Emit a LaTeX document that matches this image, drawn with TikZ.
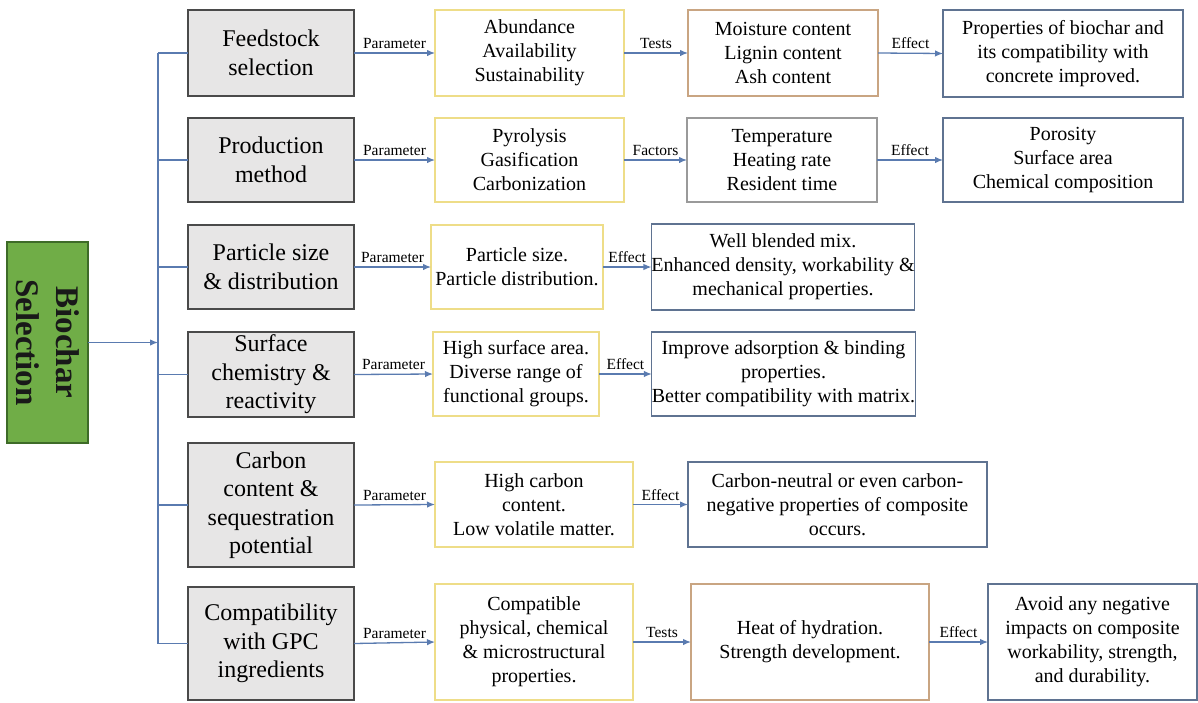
\documentclass[tikz,border=0pt]{standalone}
\usepackage{fontspec}
\setmainfont{Liberation Serif}
\newfontfamily\tnr{Liberation Serif}
\usetikzlibrary{arrows.meta,calc}
\definecolor{conn}{HTML}{5A7BB0}
\definecolor{grayfill}{HTML}{E7E6E6}
\definecolor{grayline}{HTML}{4A4A4A}
\definecolor{yel}{HTML}{EEDD88}
\definecolor{bluebd}{HTML}{5F7391}
\definecolor{brownbd}{HTML}{C9A582}
\definecolor{graybd}{HTML}{9A9A9A}
\definecolor{greenfill}{HTML}{70AD47}
\definecolor{greenbd}{HTML}{3E6B28}
\tikzset{
  base/.style={draw, line width=1.2pt, inner sep=0pt, outer sep=0pt, align=center, text=black},
  leftbox/.style={base, fill=grayfill, draw=grayline, font=\tnr\fontsize{24}{28.5}\selectfont},
  inbox/.style={base, fill=white, font=\tnr\fontsize{20}{24}\selectfont},
  yelbox/.style={inbox, draw=yel},
  bluebox/.style={inbox, draw=bluebd},
  brownbox/.style={inbox, draw=brownbd},
  graybox/.style={inbox, draw=graybd},
  greenbox/.style={base, fill=greenfill, draw=greenbd},
  line/.style={draw=conn, line width=1.3pt},
  arr/.style={line, -{Latex[length=8pt,width=6.5pt]}},
  lab/.style={font=\tnr\fontsize{15.5}{18}\selectfont, text=black, inner sep=3.5pt, above}
}
\begin{document}
\begin{tikzpicture}[x=1pt,y=-1pt]
\useasboundingbox[fill=white] (0,0) rectangle (1198,702);

% main box
\node[greenbox, minimum width=81pt, minimum height=201pt] (bio) at (47.5,342.5) {};
\node[font=\tnr\bfseries\fontsize{33}{40}\selectfont, align=center, rotate=-90, text=black!90] (biotxt) at (bio.center) {Biochar\\Selection};

% left column
\node[leftbox, minimum width=166pt, minimum height=86pt]  (g1) at (271,53) {Feedstock\\selection};
\node[leftbox, minimum width=166pt, minimum height=84pt]  (g2) at (271,160) {Production\\method};
\node[leftbox, minimum width=166pt, minimum height=84pt]  (g3) at (271,267) {Particle size\\\& distribution};
\node[leftbox, minimum width=166pt, minimum height=85pt]  (g4) at (271,374.5) {Surface\\chemistry \&\\reactivity};
\node[leftbox, minimum width=166pt, minimum height=124pt] (g5) at (271,505) {Carbon\\content \&\\sequestration\\potential};
\node[leftbox, minimum width=166pt, minimum height=113pt] (g6) at (271,643.5) {Compatibility\\with GPC\\ingredients};

% second column
\node[yelbox, minimum width=189pt, minimum height=86pt]  (y1) at (529.5,53) {Abundance\\Availability\\Sustainability};
\node[yelbox, minimum width=189pt, minimum height=84pt]  (y2) at (529.5,160) {Pyrolysis\\Gasification\\Carbonization};
\node[yelbox, minimum width=172pt, minimum height=84pt]  (y3) at (517,267) {Particle size.\\Particle distribution.};
\node[yelbox, minimum width=166pt, minimum height=84pt]  (y4) at (516,374) {High surface area.\\Diverse range of\\functional groups.};
\node[yelbox, minimum width=198pt, minimum height=85pt]  (y5) at (534,504.5) {High carbon\\content.\\Low volatile matter.};
\node[yelbox, minimum width=198pt, minimum height=116pt] (y6) at (534,642) {Compatible\\physical, chemical\\\& microstructural\\properties.};

% third column
\node[brownbox, minimum width=190pt, minimum height=86pt] (t1) at (783,53) {Moisture content\\Lignin content\\Ash content};
\node[graybox,  minimum width=190pt, minimum height=84pt] (t2) at (782,160) {Temperature\\Heating rate\\Resident time};
\node[bluebox,  minimum width=262pt, minimum height=86pt] (t3) at (783,267) {Well blended mix.\\Enhanced density, workability \&\\mechanical properties.};
\node[bluebox,  minimum width=261pt, minimum height=84pt] (t4) at (783.5,374) {Improve adsorption \& binding\\properties.\\Better compatibility with matrix.};
\node[bluebox,  minimum width=299pt, minimum height=85pt] (t5) at (837.5,504.5) {Carbon-neutral or even carbon-\\negative properties of composite\\occurs.};
\node[brownbox, minimum width=238pt, minimum height=116pt] (t6) at (810,642) {Heat of hydration.\\Strength development.};

% fourth column
\node[bluebox, minimum width=240pt, minimum height=87pt]  (f1) at (1063,53.5) {Properties of biochar and\\its compatibility with\\concrete improved.};
\node[bluebox, minimum width=240pt, minimum height=84pt]  (f2) at (1063,160) {Porosity\\Surface area\\Chemical composition};
\node[bluebox, minimum width=209pt, minimum height=116pt] (f6) at (1092.5,642) {Avoid any negative\\impacts on composite\\workability, strength,\\and durability.};

% spine
\coordinate (sp) at (158,0);
\draw[line] (g1.west -| sp) -- (g6.west -| sp);
\foreach \g in {g1,g2,g3,g4,g5,g6} {
  \draw[line] (\g.west -| sp) -- (\g.west);
}
\draw[arr] (bio.east) -- (bio.east -| sp);

% row connectors
\draw[arr] (g1.east) -- node[lab] {Parameter} (y1.west);
\draw[arr] (y1.east) -- node[lab] {Tests} (t1.west);
\draw[arr] (t1.east) -- node[lab] {Effect} (f1.west);

\draw[arr] (g2.east) -- node[lab] {Parameter} (y2.west);
\draw[arr] (y2.east) -- node[lab] {Factors} (t2.west);
\draw[arr] (t2.east) -- node[lab] {Effect} (f2.west);

\draw[arr] (g3.east) -- node[lab] {Parameter} (y3.west);
\draw[arr] (y3.east) -- node[lab] {Effect} (t3.west);

\draw[arr] (g4.east) -- node[lab] {Parameter} (y4.west);
\draw[arr] (y4.east) -- node[lab] {Effect} (t4.west);

\draw[arr] (g5.east) -- node[lab] {Parameter} (y5.west);
\draw[arr] (y5.east) -- node[lab] {Effect} (t5.west);

\draw[arr] (g6.east) -- node[lab] {Parameter} (y6.west);
\draw[arr] (y6.east) -- node[lab] {Tests} (t6.west);
\draw[arr] (t6.east) -- node[lab] {Effect} (f6.west);
\end{tikzpicture}
\end{document}
